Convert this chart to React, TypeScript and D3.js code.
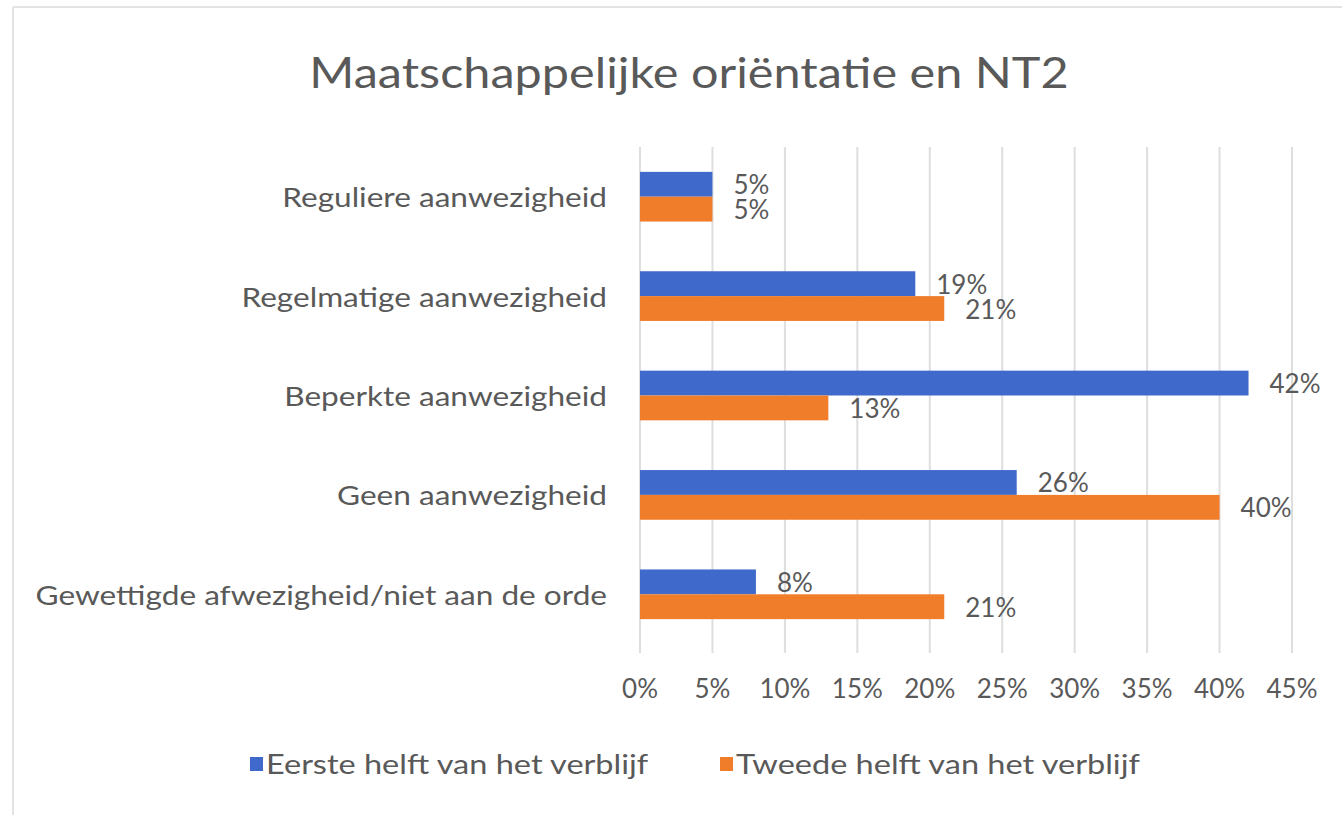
import React from "react";
import * as d3 from "d3";

const categories = [
  "Reguliere aanwezigheid",
  "Regelmatige aanwezigheid",
  "Beperkte aanwezigheid",
  "Geen aanwezigheid",
  "Gewettigde afwezigheid/niet aan de orde",
];
const seriesNames = ["Eerste helft van het verblijf", "Tweede helft van het verblijf"];
const firstHalf = [5, 19, 42, 26, 8];
const secondHalf = [5, 21, 13, 40, 21];
const ticks = [0, 5, 10, 15, 20, 25, 30, 35, 40, 45];
const colors = ["#3F6ACB", "#F07D2A"];
const title = "Maatschappelijke oriëntatie en NT2";

export default function App() {
  const W = 1342, H = 815;
  const x = d3.scaleLinear().domain([0, 45]).range([640, 1292]);
  const y = d3.scaleBand<string>().domain(categories).range([147, 644]).paddingInner(0.5).paddingOuter(0.25);
  const inner = d3.scaleBand<number>().domain([0, 1]).range([0, y.bandwidth()]);
  const series = [firstHalf, secondHalf];
  const font = "Lato, 'Open Sans', sans-serif";
  const txt = "#595959";
  return (
    <svg width={W} height={H} style={{ position: "absolute", left: 0, top: 0, background: "#fff" }} fontFamily={font}>
      <rect x={0} y={0} width={W} height={H} fill="#fff" />
      <line x1={13} y1={7} x2={W} y2={7} stroke="#e3e3e3" strokeWidth={2} />
      <line x1={13} y1={7} x2={13} y2={H} stroke="#e3e3e3" strokeWidth={2} />
      <text transform="translate(689,88) scale(1.13,1)" textAnchor="middle" fontSize={43} fill={txt}>{title}</text>
      {ticks.map((t) => (
        <g key={t}>
          <line x1={x(t)} x2={x(t)} y1={147} y2={653} stroke="#dedede" strokeWidth={2} />
          <text x={x(t)} y={698} textAnchor="middle" fontSize={26} fill={txt}>{t}%</text>
        </g>
      ))}
      {categories.map((c, i) => (
        <g key={c}>
          <text transform={`translate(607,${(y(c) as number) + y.bandwidth() / 2}) scale(1.17,1)`} textAnchor="end" dominantBaseline="central" fontSize={27} fill={txt}>{c}</text>
          {series.map((s, j) => {
            const by = (y(c) as number) + (inner(j) as number);
            return (
              <g key={j}>
                <rect x={x(0)} y={by} width={x(s[i]) - x(0)} height={inner.bandwidth()} fill={colors[j]} />
                <text x={x(s[i]) + 21} y={by + inner.bandwidth() / 2} dominantBaseline="central" fontSize={26} fill={txt}>{s[i]}%</text>
              </g>
            );
          })}
        </g>
      ))}
      {seriesNames.map((n, j) => {
        const lx = j === 0 ? 250 : 720;
        return (
          <g key={n}>
            <rect x={lx} y={757} width={13} height={14} fill={colors[j]} />
            <text transform={`translate(${lx + 16},764) scale(1.25,1)`} dominantBaseline="central" fontSize={26} fill={txt}>{n}</text>
          </g>
        );
      })}
    </svg>
  );
}
